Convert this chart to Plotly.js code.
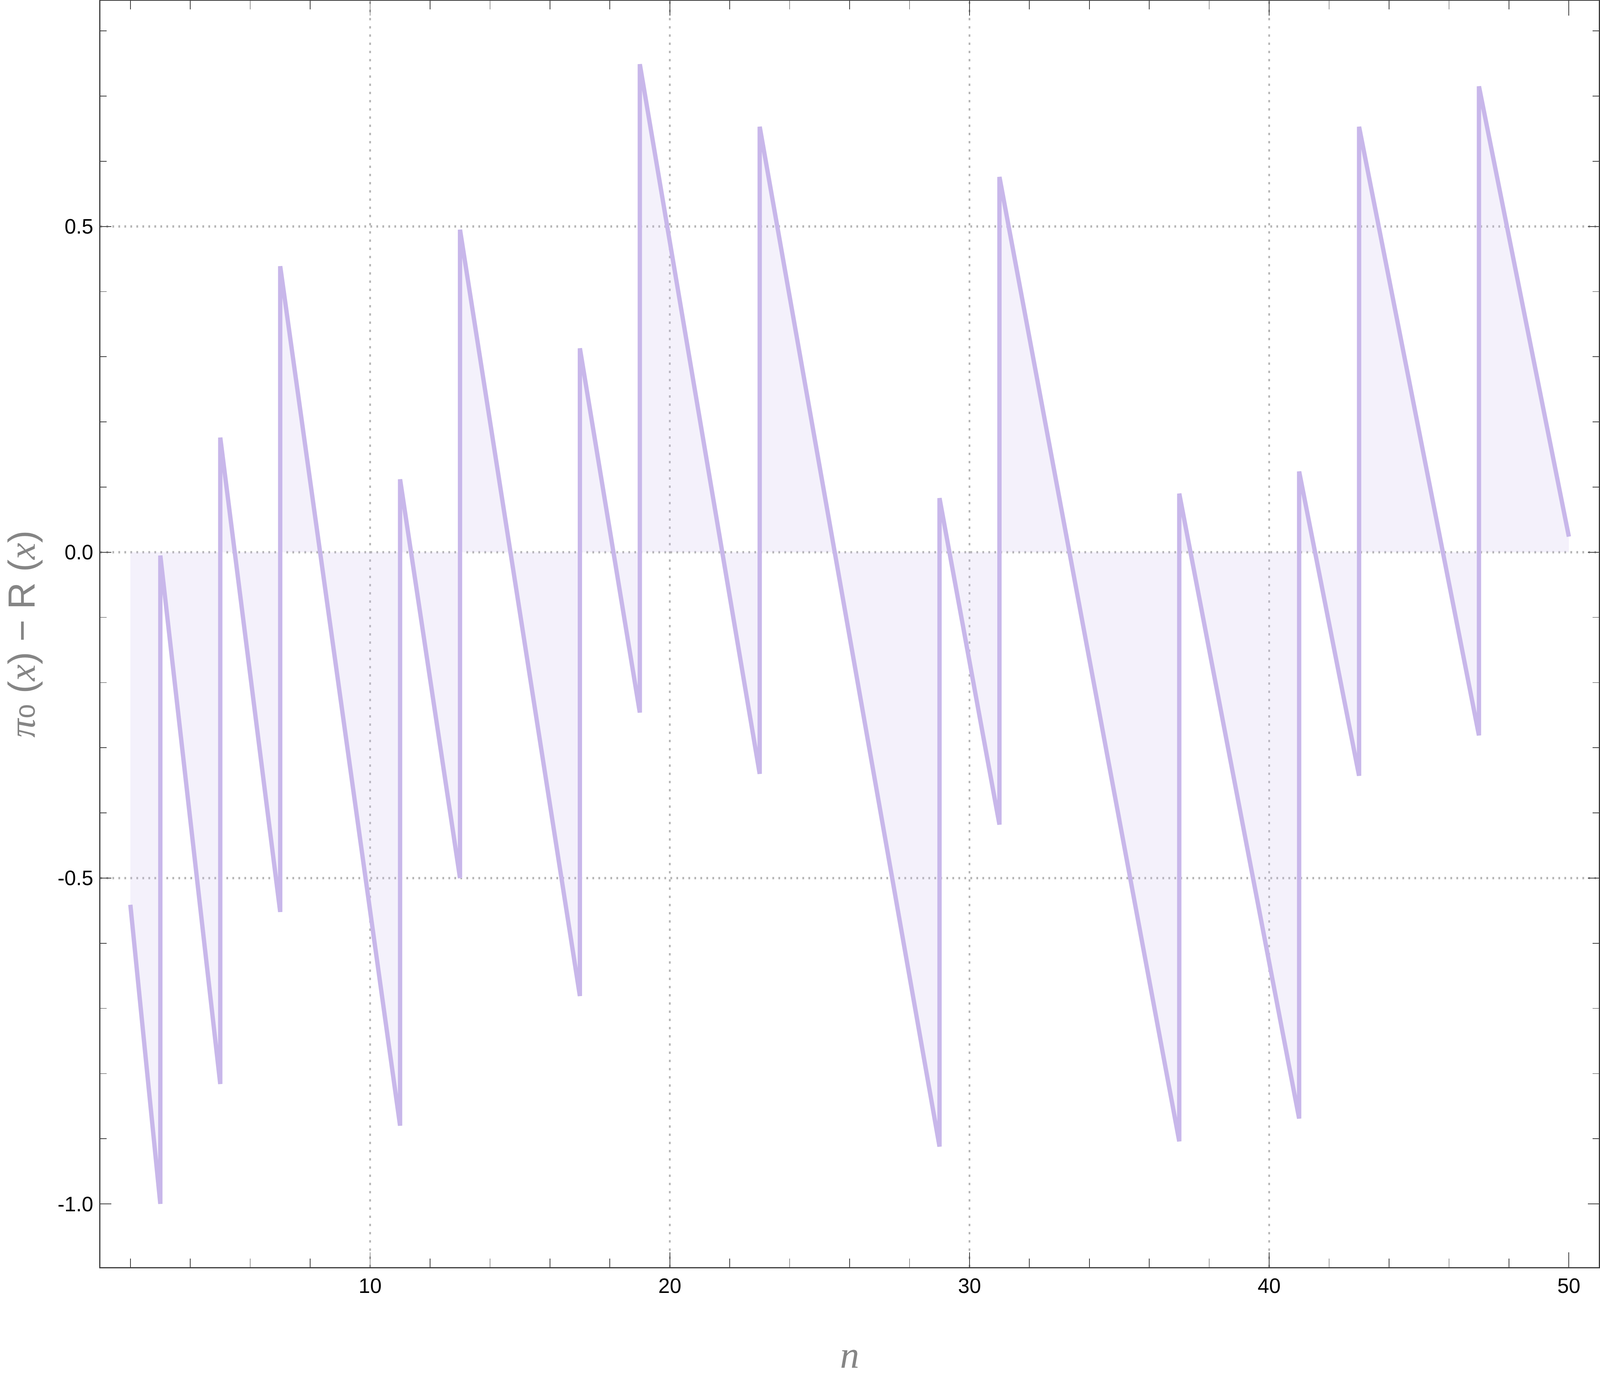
<!DOCTYPE html>
<html>
<head>
<meta charset="utf-8">
<script src="https://cdn.plot.ly/plotly-3.0.1.min.js"></script>
<style>
  html, body { margin: 0; padding: 0; background: #ffffff; overflow: hidden; }
  #chart { display: block; }
</style>
</head>
<body>
<div id="chart"></div>
<script>
// ---- data ----
const startX = 2;
const startValue = -0.541;
const endX = 50;
const endValue = 0.024;
const primes = [3, 5, 7, 11, 13, 17, 19, 23, 29, 31, 37, 41, 43, 47];
const valueBeforeJump = [-1.000, -0.816, -0.552, -0.880, -0.500, -0.681, -0.246, -0.340, -0.912, -0.418, -0.904, -0.869, -0.343, -0.281];
const valueAfterJump  = [-0.005,  0.176,  0.439,  0.112,  0.495,  0.313,  0.749,  0.653,  0.083,  0.576,  0.090,  0.124,  0.653,  0.715];

const xMajorTicks = [10, 20, 30, 40, 50];
const xTickLabels = ['10', '20', '30', '40', '50'];
const xMinorTicks = [2, 4, 6, 8, 12, 14, 16, 18, 22, 24, 26, 28, 32, 34, 36, 38, 42, 44, 46, 48];
const xGridLines = [10, 20, 30, 40];
const yMajorTicks = [-1.0, -0.5, 0.0, 0.5];
const yTickLabels = ['-1.0', '-0.5', '0.0', '0.5'];
const yMinorTicks = [-0.9, -0.8, -0.7, -0.6, -0.4, -0.3, -0.2, -0.1, 0.1, 0.2, 0.3, 0.4, 0.6, 0.7, 0.8];
const yGridLines = [-0.5, 0.0, 0.5];

// ---- build the step curve ----
const xs = [startX];
const ys = [startValue];
primes.forEach((p, i) => {
  xs.push(p); ys.push(valueBeforeJump[i]);
  xs.push(p); ys.push(valueAfterJump[i]);
});
xs.push(endX); ys.push(endValue);

const xRange = [1, 51];
const yRange = [-1.0971, 0.8463];

// ---- fill the actual viewport with the 5600x3538 design ----
const W0 = 5600, H0 = 3538;
const vw = window.innerWidth || document.documentElement.clientWidth || W0;
const vh = window.innerHeight || document.documentElement.clientHeight || H0;
const sx = vw / W0;
const sy = vh / H0;
const sf = Math.sqrt(sx * sy);
const W = Math.floor(vw), H = Math.floor(vh);
const chartDiv = document.getElementById('chart');
chartDiv.style.width = W + 'px';
chartDiv.style.height = H + 'px';

const frameColor = '#3c3c3c';
const gridColor = '#b4b4b4';
const titleColor = '#858585';
const serif = 'Liberation Serif';

const traces = [
  {
    type: 'scatter',
    mode: 'lines',
    x: xs,
    y: ys,
    fill: 'tozeroy',
    fillcolor: 'rgba(200,183,234,0.2)',
    line: { color: '#c8b7ea', width: 13 * sf, shape: 'linear' },
    hoverinfo: 'skip',
    showlegend: false
  }
];

const tickFont = { family: 'Liberation Sans, Arial, sans-serif', size: 62 * sf, color: '#000000' };
const dashV = (6 * sy).toFixed(2) + 'px,' + (15 * sy).toFixed(2) + 'px';
const dashH = (6 * sx).toFixed(2) + 'px,' + (15 * sx).toFixed(2) + 'px';

// dotted grid lines, placed through the axes' data coordinates
const gridShapes = [
  ...xGridLines.map(v => ({
    type: 'line', layer: 'below', xref: 'x', yref: 'paper',
    x0: v, x1: v, y0: 0, y1: 1,
    line: { color: gridColor, width: 6 * sx, dash: dashV }
  })),
  ...yGridLines.map(v => ({
    type: 'line', layer: 'below', xref: 'paper', yref: 'y',
    x0: 0, x1: 1, y0: v, y1: v,
    line: { color: gridColor, width: 6 * sy, dash: dashH }
  }))
];

const italic = t => '<span style="font-family:' + serif + '"><i>' + t + '</i></span>';
const yTitleText = italic('π') + '<span style="font-family:DejaVu Sans">₀</span> (' + italic('x') + ') − R (' + italic('x') + ')';

const layout = {
  width: W,
  height: H,
  paper_bgcolor: '#ffffff',
  plot_bgcolor: '#ffffff',
  showlegend: false,
  margin: { l: 351 * sx, r: 4 * sx, t: 2 * sy, b: 294 * sy, pad: 0 },
  shapes: gridShapes,
  xaxis: {
    range: xRange,
    showgrid: false,
    zeroline: false,
    showline: true,
    linecolor: frameColor,
    linewidth: 3 * sf,
    mirror: 'allticks',
    ticks: 'inside',
    ticklen: 38 * sy,
    tickwidth: 2 * sf,
    tickcolor: frameColor,
    tickmode: 'array',
    tickvals: xMajorTicks,
    ticktext: xTickLabels,
    tickfont: tickFont,
    ticklabelstandoff: 0,
    minor: {
      tickmode: 'array',
      tickvals: xMinorTicks,
      ticks: 'inside',
      ticklen: 22 * sy,
      tickwidth: 2 * sf,
      tickcolor: frameColor,
      showgrid: false
    },
    title: {
      text: '<i>n</i>',
      font: { family: serif, size: 115 * sf, color: titleColor },
      standoff: 112 * sy
    },
    automargin: false
  },
  yaxis: {
    range: yRange,
    showgrid: false,
    zeroline: false,
    showline: true,
    linecolor: frameColor,
    linewidth: 3 * sf,
    mirror: 'allticks',
    ticks: 'inside',
    ticklen: 38 * sx,
    tickwidth: 2 * sf,
    tickcolor: frameColor,
    tickmode: 'array',
    tickvals: yMajorTicks,
    ticktext: yTickLabels,
    tickfont: tickFont,
    ticklabelstandoff: Math.round(7 * sx),
    minor: {
      tickmode: 'array',
      tickvals: yMinorTicks,
      ticks: 'inside',
      ticklen: 22 * sx,
      tickwidth: 2 * sf,
      tickcolor: frameColor,
      showgrid: false
    },
    title: {
      text: yTitleText,
      font: { family: 'Liberation Sans, Arial, sans-serif', size: 112 * sf, color: titleColor },
      standoff: 88 * sx
    },
    automargin: false
  }
};

Plotly.newPlot('chart', traces, layout, { displayModeBar: false, staticPlot: true });
</script>
</body>
</html>
